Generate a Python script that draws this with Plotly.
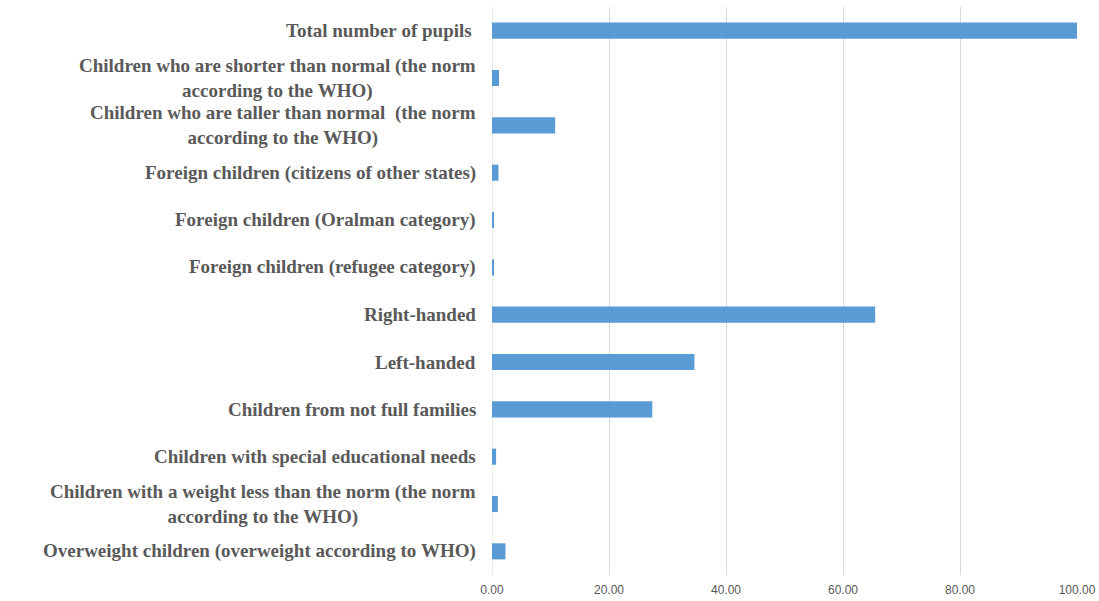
import plotly.graph_objects as go

categories = [
    "Total number of pupils ",
    "Children who are shorter than normal (the norm<br>according to the WHO)",
    "Children who are taller than normal  (the norm<br>according to the WHO)",
    "Foreign children (citizens of other states)",
    "Foreign children (Oralman category)",
    "Foreign children (refugee category)",
    "Right-handed",
    "Left-handed",
    "Children from not full families",
    "Children with special educational needs",
    "Children with a weight less than the norm (the norm<br>according to the WHO)",
    "Overweight children (overweight according to WHO)",
]
values = [100.0, 1.2, 10.8, 1.1, 0.3, 0.3, 65.5, 34.6, 27.4, 0.7, 1.0, 2.3]
tick_vals = [0, 20, 40, 60, 80, 100]
tick_text = ["0.00", "20.00", "40.00", "60.00", "80.00", "100.00"]

ids = list(range(len(categories)))

fig = go.Figure(go.Bar(
    x=values, y=ids, orientation="h",
    marker=dict(color="#5B9BD5", line=dict(width=0)),
    width=0.34,
))

annotations = []
for i, c in zip(ids, categories):
    block = "<br>".join(l.replace(" ", "\u00a0") for l in c.split("<br>"))
    annotations.append(dict(
        x=0, xref="paper", y=i, yref="y", text=block, showarrow=False,
        xanchor="right", yanchor="middle", align="center", xshift=-14,
        font=dict(family="Liberation Serif, Times New Roman, serif", size=19,
                  color="#595959", weight="bold"),
    ))

fig.update_layout(
    width=1099, height=601,
    margin=dict(l=492, r=22, t=7, b=26, autoexpand=False),
    paper_bgcolor="white", plot_bgcolor="white",
    showlegend=False,
    annotations=annotations,
    xaxis=dict(range=[0, 100], tickvals=tick_vals, ticktext=tick_text, automargin=False,
               showgrid=True, gridcolor="#D9D9D9", gridwidth=1,
               zeroline=False, showline=False, ticklabelstandoff=6,
               tickfont=dict(family="Liberation Sans, Arial, sans-serif", size=12, color="#595959")),
    yaxis=dict(range=[len(categories) - 0.5, -0.5], tickvals=ids, showticklabels=False,
               automargin=False, showgrid=False, zeroline=False, showline=False),
)
fig.add_shape(type="line", xref="x", yref="paper", x0=0, x1=0, y0=0, y1=1,
              line=dict(color="#D9D9D9", width=1), layer="below")

fig.write_html("out.html")
